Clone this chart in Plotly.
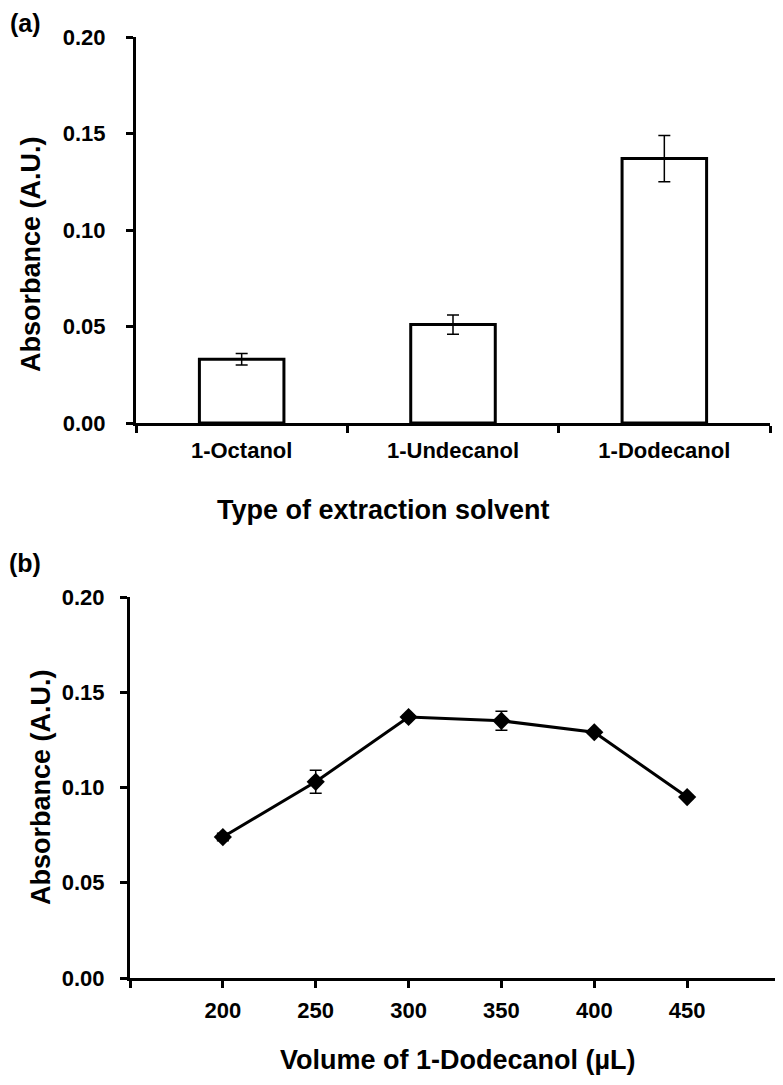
import plotly.graph_objects as go

# Panel (a)
solvents = ["1-Octanol", "1-Undecanol", "1-Dodecanol"]
abs_a = [0.033, 0.051, 0.137]
err_a = [0.003, 0.005, 0.012]

# Panel (b)
volumes = [200, 250, 300, 350, 400, 450]
abs_b = [0.074, 0.103, 0.137, 0.135, 0.129, 0.095]
err_b = [0.002, 0.006, 0.001, 0.005, 0.001, 0.001]

x_ticks_b = [150, 200, 250, 300, 350, 400, 450, 500]
x_ticktext_b = ["", "200", "250", "300", "350", "400", "450", ""]
y_ticks = [0.0, 0.05, 0.10, 0.15, 0.20]

W, H = 783, 1085
OFF = 8  # page body margin offset
FONT = "Arial, Liberation Sans, sans-serif"

def px(x):
    return (x - OFF) / W

def py(y):
    return 1 - (y - OFF) / H

fig = go.Figure()

fig.add_trace(go.Bar(
    x=solvents, y=abs_a, width=0.4,
    marker=dict(color="white", line=dict(color="black", width=3)),
    error_y=dict(type="data", array=err_a, color="black", thickness=1.5, width=6),
    xaxis="x", yaxis="y", showlegend=False,
))

fig.add_trace(go.Scatter(
    x=volumes, y=abs_b, mode="lines+markers",
    line=dict(color="black", width=3),
    marker=dict(symbol="diamond", size=14, color="black"),
    error_y=dict(type="data", array=err_b, color="black", thickness=1.5, width=6),
    xaxis="x2", yaxis="y2", showlegend=False,
))

tick_font = dict(family=FONT, size=22, color="black", weight="bold")
axis_common = dict(
    showgrid=False, zeroline=False, showline=True, linecolor="black", linewidth=3,
    ticks="outside", ticklen=7, tickwidth=3, tickcolor="black",
    tickfont=tick_font, automargin=False,
)

fig.update_layout(
    width=W, height=H,
    margin=dict(l=0, r=0, t=0, b=0, pad=0, autoexpand=False),
    paper_bgcolor="white", plot_bgcolor="white",
    xaxis=dict(axis_common, domain=[px(136), px(770)], anchor="y",
               type="category", tickson="boundaries", range=[-0.5, 2.5],
               ticklabelstandoff=6),
    yaxis=dict(axis_common, domain=[py(423), py(37)], anchor="x",
               range=[0, 0.2], tickvals=y_ticks, tickformat=".2f",
               ticklabelstandoff=16),
    xaxis2=dict(axis_common, domain=[px(130), px(780)], anchor="y2",
                range=[150, 500], tickvals=x_ticks_b, ticktext=x_ticktext_b,
                ticklabelstandoff=4),
    yaxis2=dict(axis_common, domain=[py(978), py(597)], anchor="x2",
                range=[0, 0.2], tickvals=y_ticks, tickformat=".2f",
                ticklabelstandoff=11),
)

title_font = dict(family=FONT, size=27, color="black", weight="bold")
annots = [
    dict(text="(a)", x=px(25), y=py(23), font=dict(title_font, size=25)),
    dict(text="(b)", x=px(25), y=py(563), font=dict(title_font, size=25)),
    dict(text="Type of extraction solvent", x=px(383), y=py(510), font=title_font),
    dict(text="Absorbance (A.U.)", x=px(31), y=py(254), font=title_font, textangle=-90),
    dict(text="Volume of 1-Dodecanol (µL)", x=px(458), y=py(1060), font=title_font),
    dict(text="Absorbance (A.U.)", x=px(41), y=py(787), font=title_font, textangle=-90),
]
for a in annots:
    fig.add_annotation(xref="paper", yref="paper", showarrow=False,
                       xanchor="center", yanchor="middle", **a)

fig.write_html("out.html")
